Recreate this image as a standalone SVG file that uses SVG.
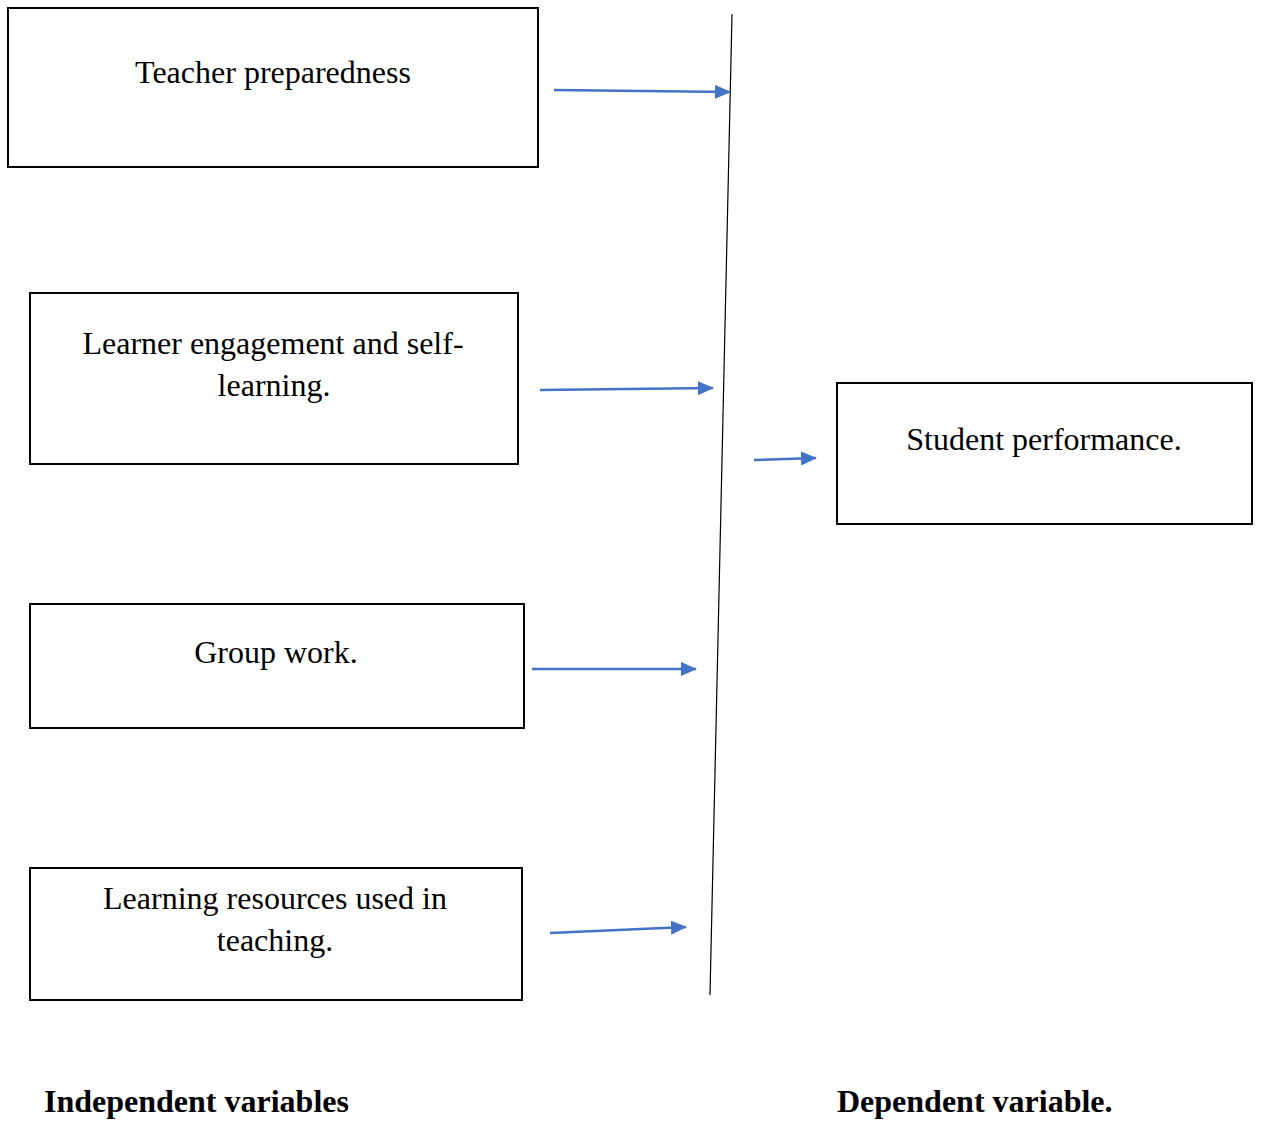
<svg xmlns="http://www.w3.org/2000/svg" width="1261" height="1121" viewBox="0 0 1261 1121">
<style>
.box{fill:#fff;stroke:#000;stroke-width:2}
.t{font-family:"Liberation Serif","Times New Roman",serif;font-size:32px;fill:#000;text-anchor:middle}
.b{font-family:"Liberation Serif","Times New Roman",serif;font-size:32px;font-weight:bold;fill:#000}
.arr{stroke:#4472C4;stroke-width:2.5;fill:none;marker-end:url(#ah)}
</style>
<defs>
<marker id="ah" markerUnits="userSpaceOnUse" markerWidth="16" markerHeight="14" refX="15" refY="7" orient="auto">
<path d="M0,0 L16,7 L0,14 Z" fill="#4472C4"/>
</marker>
</defs>
<rect width="1261" height="1121" fill="#fff"/>
<g id="n1"><rect class="box" x="8" y="8" width="530" height="159"/><text class="t" x="273" y="83">Teacher preparedness</text></g>
<g id="n2"><rect class="box" x="30" y="293" width="488" height="171"/><text class="t" x="273" y="354">Learner engagement and self-</text><text class="t" x="274" y="396">learning.</text></g>
<g id="n3"><rect class="box" x="30" y="604" width="494" height="124"/><text class="t" x="276" y="663">Group work.</text></g>
<g id="n4"><rect class="box" x="30" y="868" width="492" height="132"/><text class="t" x="275" y="909">Learning resources used in</text><text class="t" x="275" y="951">teaching.</text></g>
<g id="n5"><rect class="box" x="837" y="383" width="415" height="141"/><text class="t" x="1044" y="450">Student performance.</text></g>
<g id="connectors">
<line x1="732" y1="14" x2="710" y2="995" stroke="#000" stroke-width="1.2"/>
<line class="arr" x1="554" y1="90" x2="730" y2="92"/>
<line class="arr" x1="540" y1="390" x2="713" y2="388"/>
<line class="arr" x1="532" y1="669" x2="696" y2="669"/>
<line class="arr" x1="550" y1="933" x2="686" y2="927"/>
<line class="arr" x1="754" y1="460" x2="816" y2="458"/>
</g>
<text class="b" x="44" y="1112">Independent variables</text>
<text class="b" x="837" y="1112">Dependent variable.</text>
</svg>
